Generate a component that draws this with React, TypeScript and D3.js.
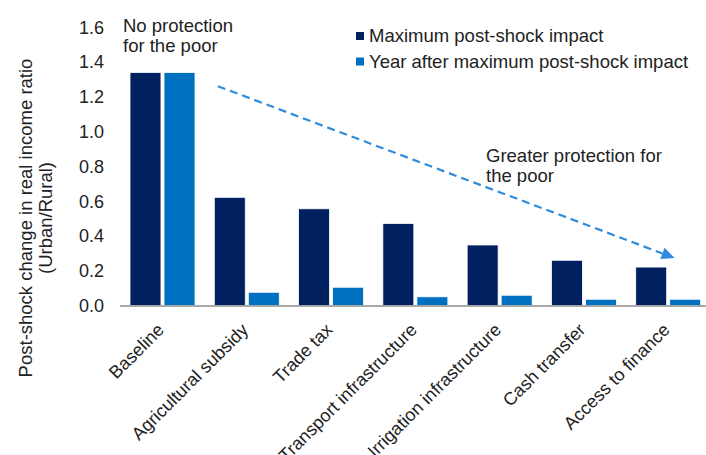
import React from "react";
import * as d3 from "d3";

const categories = [
  "Baseline",
  "Agricultural subsidy",
  "Trade tax",
  "Transport infrastructure",
  "Irrigation infrastructure",
  "Cash transfer",
  "Access to finance",
];
const seriesNames = ["Maximum post-shock impact", "Year after maximum post-shock impact"];
const maxImpact = [1.34, 0.622, 0.556, 0.472, 0.348, 0.26, 0.221];
const yearAfter = [1.34, 0.076, 0.105, 0.05, 0.059, 0.036, 0.036];
const yTicks = [0, 0.2, 0.4, 0.6, 0.8, 1.0, 1.2, 1.4, 1.6];
const colors = ["#002060", "#0070C0"];
const arrowColor = "#2F8BDB";

const W = 706;
const H = 455;
const FONT = "'Liberation Sans', Arial, sans-serif";

export default function App() {
  const x0 = d3.scaleBand<string>().domain(categories).range([120, 710]).paddingInner(0).paddingOuter(0);
  const x1 = d3.scaleBand<string>().domain(seriesNames).range([10, 75]).paddingInner(0.09);
  const y = d3.scaleLinear().domain([0, 1.6]).range([305.5, 27.2]);
  const values = [maxImpact, yearAfter];

  const step = x0.step();
  const ax1 = (x0(categories[1]) ?? 0) + step * 0.16;
  const ay1 = y(1.261);
  const ax2 = (x0(categories[6]) ?? 0) + step * 0.58;
  const ay2 = y(0.273);
  const ang = Math.atan2(ay2 - ay1, ax2 - ax1);
  const headLen = 13;
  const headW = 6;
  const lx2 = ax2 - Math.cos(ang) * headLen;
  const ly2 = ay2 - Math.sin(ang) * headLen;
  const px = -Math.sin(ang);
  const py = Math.cos(ang);
  const head = [
    [ax2, ay2],
    [lx2 + px * headW, ly2 + py * headW],
    [lx2 - px * headW, ly2 - py * headW],
  ]
    .map((p) => p.join(","))
    .join(" ");

  return (
    <svg
      width={W}
      height={H}
      style={{ position: "absolute", left: 0, top: 0, background: "#fff" }}
      fontFamily={FONT}
    >
      {/* bars */}
      {categories.map((c, i) => (
        <g key={c} transform={`translate(${x0(c)},0)`}>
          {seriesNames.map((s, j) => (
            <rect
              key={s}
              x={x1(s)}
              y={y(values[j][i])}
              width={x1.bandwidth()}
              height={y(0) - y(values[j][i])}
              fill={colors[j]}
              stroke="#fff"
              strokeWidth={0.8}
            />
          ))}
        </g>
      ))}
      {/* x axis line */}
      <line x1={120} x2={710} y1={y(0) + 0.5} y2={y(0) + 0.5} stroke="#8c8c8c" strokeWidth={1.3} />
      {/* y tick labels */}
      {yTicks.map((t) => (
        <text key={t} x={104} y={y(t)} dy="0.36em" textAnchor="end" fontSize={18} fill="#222">
          {d3.format(".1f")(t)}
        </text>
      ))}
      {/* category labels */}
      {categories.map((c) => {
        const cx = (x0(c) ?? 0) + step / 2 + 3;
        return (
          <text
            key={c}
            transform={`translate(${cx},331) rotate(-45)`}
            textAnchor="end"
            fontSize={18}
            fill="#222"
          >
            {c}
          </text>
        );
      })}
      {/* y axis title */}
      <g transform="translate(32,218) rotate(-90)">
        <text textAnchor="middle" fontSize={18.5} fill="#222">
          Post-shock change in real income ratio
        </text>
        <text textAnchor="middle" y={19.5} fontSize={18.5} fill="#222">
          (Urban/Rural)
        </text>
      </g>
      {/* legend */}
      {seriesNames.map((s, j) => (
        <g key={s}>
          <rect x={356} y={32 + j * 25.5} width={8} height={8} fill={colors[j]} />
          <text x={369} y={41.7 + j * 26.3} fontSize={18.5} fill="#222">
            {s}
          </text>
        </g>
      ))}
      {/* annotations */}
      <text x={123} y={31.7} fontSize={18.5} fill="#222">No protection</text>
      <text x={123} y={51.7} fontSize={18.5} fill="#222">for the poor</text>
      <text x={486} y={161.7} fontSize={18.5} fill="#222">Greater protection for</text>
      <text x={486} y={181.7} fontSize={18.5} fill="#222">the poor</text>
      {/* arrow */}
      <line
        x1={ax1}
        y1={ay1}
        x2={lx2}
        y2={ly2}
        stroke={arrowColor}
        strokeWidth={2.2}
        strokeDasharray="8,5"
      />
      <polygon points={head} fill={arrowColor} />
    </svg>
  );
}
